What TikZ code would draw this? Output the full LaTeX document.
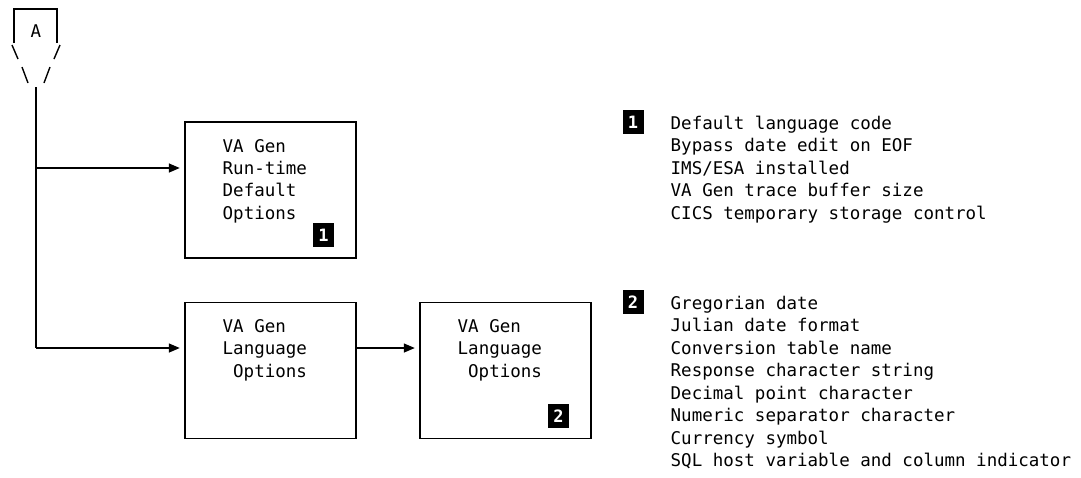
\documentclass[tikz,border=0pt]{standalone}
\usepackage{fontspec}
\usetikzlibrary{arrows.meta}
\newfontfamily\monof{DejaVu Sans Mono}
\newfontfamily\badgef{DejaVu Sans Mono Bold}
\begin{document}
\begin{tikzpicture}[x=1pt,y=-1pt,
  line width=1.4pt,
  txt/.style={anchor=base west,inner sep=0pt,font=\monof\fontsize{17.5}{22.5}\selectfont},
  optbox/.style={draw,minimum width=171pt,minimum height=136pt,inner sep=0pt},
  badge/.style={fill=black,text=white,minimum width=21pt,minimum height=24pt,inner sep=0pt,font=\badgef\fontsize{17}{17}\selectfont},
  arr/.style={-{Triangle[length=11pt,width=9pt]},shorten >=4.5pt}]
\useasboundingbox (0,0) rectangle (1081,477);
% connector box A
\draw (14,43) -- (14,9) -- (57,9) -- (57,43);
\node[inner sep=0pt,font=\monof\fontsize{17.5}{17.5}\selectfont] (A) at (36,31) {A};
\draw (12,45) -- (18,59);
\draw (60,45) -- (54,59);
\draw (22,67) -- (28,83);
\draw (50,67) -- (44,83);
\coordinate (top) at (36,87);
\coordinate (bot) at (36,348);
\coordinate (j1) at (36,168);
% boxes
\node[optbox] (b1) at (270.5,190) {};
\node[optbox] (b2) at (270.5,370.5) {};
\node[optbox] (b3) at (505.5,370.5) {};
% lines
\draw (top) -- (bot);
\draw[arr] (j1) -- (j1 -| b1.west);
\draw[arr] (bot) -- (bot -| b2.west);
\draw[arr] (b2.east |- bot) -- (bot -| b3.west);
% box texts
\node[txt] (t11) at (222,152) {VA Gen};
\node[txt] (t12) at (222,174.3) {Run-time};
\node[txt] (t13) at (222,196.6) {Default};
\node[txt] (t14) at (222,219) {Options};
\node[badge] (k1) at (323.5,235) {1};
\node[txt] (t21) at (222,332) {VA Gen};
\node[txt] (t22) at (222,354.5) {Language};
\node[txt] (t23) at (232.5,377) {Options};
\node[txt] (t31) at (457,332) {VA Gen};
\node[txt] (t32) at (457,354.5) {Language};
\node[txt] (t33) at (467.5,377) {Options};
\node[badge] (k2) at (558.5,416) {2};
% lists
\node[badge] (m1) at (633,122) {1};
\foreach \t [count=\i] in {Default language code,Bypass date edit on EOF,IMS/ESA installed,VA Gen trace buffer size,CICS temporary storage control}
  \node[txt] (p\i) at (670,{129+22.5*(\i-1)}) {\t};
\node[badge] (m2) at (633,302) {2};
\foreach \t [count=\i] in {Gregorian date,Julian date format,Conversion table name,Response character string,Decimal point character,Numeric separator character,Currency symbol,SQL host variable and column indicator}
  \node[txt] (q\i) at (670,{309+22.5*(\i-1)}) {\t};
\end{tikzpicture}
\end{document}
